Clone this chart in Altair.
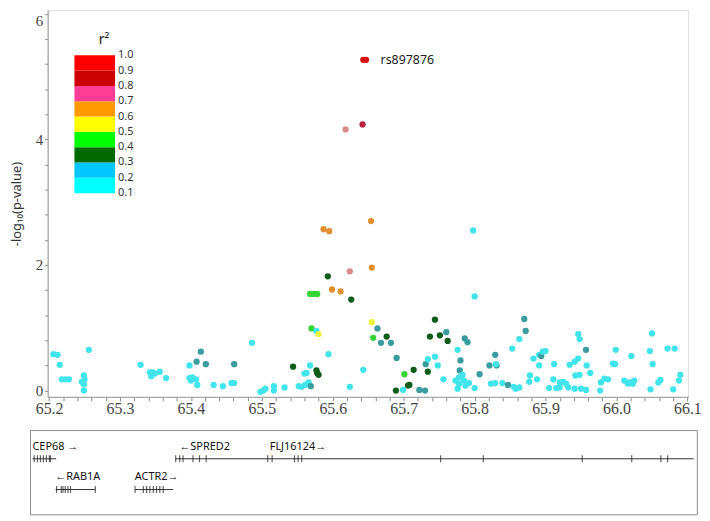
import altair as alt
import pandas as pd

# ---------------- SNP association data (position in Mb, -log10 p, r2) -------------
snp_pos = [
    65.206, 65.212, 65.215, 65.218, 65.223, 65.228, 65.256, 65.249, 65.250, 65.246,
    65.249, 65.249, 65.329, 65.342, 65.346, 65.344, 65.356, 65.349, 65.365, 65.398,
    65.398, 65.402, 65.407, 65.400, 65.409, 65.414, 65.408, 65.421, 65.461, 65.457,
    65.461, 65.432, 65.445, 65.486, 65.498, 65.502, 65.505, 65.517, 65.517, 65.532,
    65.544, 65.552, 65.556, 65.561, 65.566, 65.569, 65.560, 65.563, 65.568, 65.577,
    65.578, 65.580, 65.568, 65.573, 65.578, 65.570, 65.577, 65.580, 65.593, 65.594,
    65.599, 65.611, 65.624, 65.626, 65.624, 65.643, 65.643, 65.647, 65.642, 65.618,
    65.654, 65.587, 65.595, 65.798, 65.655, 65.800, 65.655, 65.663, 65.657, 65.668,
    65.682, 65.676, 65.690, 65.701, 65.714, 65.689, 65.706, 65.708, 65.699, 65.722,
    65.730, 65.744, 65.737, 65.751, 65.762, 65.734, 65.731, 65.734, 65.744, 65.748,
    65.760, 65.756, 65.786, 65.790, 65.776, 65.780, 65.779, 65.773, 65.778, 65.783,
    65.785, 65.778, 65.787, 65.792, 65.776, 65.807, 65.800, 65.821, 65.831, 65.829,
    65.830, 65.823, 65.829, 65.839, 65.847, 65.855, 65.858, 65.863, 65.853, 65.863,
    65.870, 65.872, 65.883, 65.891, 65.894, 65.896, 65.900, 65.891, 65.878, 65.888,
    65.877, 65.905, 65.912, 65.911, 65.920, 65.925, 65.929, 65.932, 65.920, 65.915,
    65.934, 65.941, 65.946, 65.946, 65.948, 65.957, 65.958, 65.963, 65.948, 65.942,
    65.941, 65.950, 65.957, 65.978, 65.988, 65.977, 65.983, 65.999, 65.995, 65.998,
    66.021, 66.011, 66.018, 66.025, 66.023, 66.016, 66.047, 66.050, 66.051, 66.048,
    66.059, 66.062, 66.072, 66.082, 66.080, 66.090, 66.088,
]
snp_logp = [
    0.58, 0.57, 0.41, 0.18, 0.18, 0.18, 0.65, 0.24, 0.18, 0.14,
    0.10, 0.00, 0.41, 0.29, 0.29, 0.23, 0.30, 0.27, 0.20, 0.40,
    0.20, 0.21, 0.18, 0.16, 0.09, 0.62, 0.46, 0.42, 0.42, 0.12,
    0.12, 0.09, 0.07, 0.76, -0.02, 0.00, 0.03, 0.07, 0.00, 0.05,
    0.38, 0.07, 0.06, 0.09, 0.13, 0.07, 0.27, 0.28, 0.40, 0.32,
    0.28, 0.25, 1.54, 1.54, 1.54, 0.99, 0.95, 0.90, 1.82, 0.58,
    1.61, 1.58, 1.90, 1.45, 0.06, 0.33, 5.27, 5.27, 4.24, 4.16,
    2.70, 2.57, 2.54, 2.55, 1.96, 1.50, 1.09, 0.99, 0.84, 0.76,
    0.76, 0.86, 0.52, 0.26, 0.33, 0.00, 0.08, 0.09, 0.01, 0.01,
    0.00, 1.13, 0.86, 0.88, 0.79, 0.30, 0.42, 0.50, 0.54, 0.40,
    0.93, 0.18, 0.83, 0.77, 0.65, 0.48, 0.32, 0.16, 0.21, 0.25,
    0.16, 0.11, 0.08, 0.12, 0.03, 0.26, 0.04, 0.40, 0.40, 0.57,
    0.42, 0.11, 0.12, 0.12, 0.09, 0.06, 0.03, 0.05, 0.67, 0.82,
    1.14, 0.95, 0.51, 0.57, 0.55, 0.62, 0.63, 0.40, 0.24, 0.18,
    0.14, 0.04, 0.42, 0.18, 0.13, 0.14, 0.11, 0.05, 0.05, 0.04,
    0.41, 0.46, 0.51, 0.90, 0.82, 0.65, 0.40, 0.28, 0.25, 0.24,
    0.03, 0.03, 0.01, 0.13, 0.18, 0.00, 0.19, 0.65, 0.43, 0.42,
    0.55, 0.16, 0.13, 0.16, 0.11, 0.11, 0.63, 0.91, 0.42, 0.02,
    0.13, 0.17, 0.67, 0.67, 0.02, 0.25, 0.16,
]
snp_r2 = [
    0.12, 0.12, 0.12, 0.12, 0.12, 0.12, 0.12, 0.12, 0.12, 0.12,
    0.12, 0.12, 0.12, 0.12, 0.12, 0.12, 0.12, 0.12, 0.12, 0.12,
    0.12, 0.12, 0.12, 0.12, 0.12, 0.25, 0.25, 0.25, 0.25, 0.12,
    0.12, 0.12, 0.12, 0.12, 0.12, 0.12, 0.12, 0.12, 0.12, 0.12,
    0.35, 0.12, 0.12, 0.12, 0.12, 0.25, 0.12, 0.12, 0.12, 0.35,
    0.35, 0.35, 0.45, 0.45, 0.45, 0.45, 0.12, 0.55, 0.35, 0.12,
    0.65, 0.65, 0.75, 0.35, 0.12, 0.12, 0.95, 0.95, 0.85, 0.75,
    0.65, 0.65, 0.65, 0.12, 0.65, 0.12, 0.55, 0.25, 0.45, 0.25,
    0.25, 0.35, 0.25, 0.45, 0.35, 0.35, 0.35, 0.35, 0.12, 0.25,
    0.25, 0.35, 0.35, 0.35, 0.35, 0.35, 0.25, 0.12, 0.12, 0.12,
    0.25, 0.12, 0.25, 0.25, 0.12, 0.25, 0.25, 0.12, 0.12, 0.12,
    0.12, 0.12, 0.12, 0.12, 0.12, 0.25, 0.12, 0.25, 0.25, 0.25,
    0.12, 0.12, 0.12, 0.12, 0.25, 0.12, 0.12, 0.12, 0.12, 0.12,
    0.25, 0.25, 0.12, 0.12, 0.25, 0.12, 0.12, 0.12, 0.12, 0.12,
    0.12, 0.12, 0.12, 0.12, 0.12, 0.12, 0.12, 0.12, 0.12, 0.12,
    0.12, 0.12, 0.12, 0.12, 0.12, 0.25, 0.12, 0.12, 0.12, 0.12,
    0.12, 0.12, 0.12, 0.12, 0.12, 0.12, 0.12, 0.12, 0.12, 0.12,
    0.12, 0.12, 0.12, 0.12, 0.12, 0.12, 0.12, 0.12, 0.12, 0.12,
    0.12, 0.12, 0.12, 0.12, 0.12, 0.12, 0.12,
]

lead_name = ["rs897876"]
lead_pos = [65.645]
lead_logp = [5.27]

# r2 legend: thresholds 0.1 ... 1.0, nine coloured bands between them
legend_r2 = [0.1, 0.2, 0.3, 0.4, 0.5, 0.6, 0.7, 0.8, 0.9, 1.0]
band_colors = ["#00ffff", "#00c8ff", "#006a00", "#00ff00", "#ffff00",
               "#ff9900", "#ff3c96", "#cc0000", "#ff0000"]
legend_colors = ["rgba(0,0,0,0)"] + band_colors + ["rgba(0,0,0,0)"]
point_colors = ["#40e4ea", "#3a9c9e", "#0d5c1a", "#34d434", "#f2f23c",
                "#e0902e", "#d98c8c", "#b8203e", "#d41414"]

# axes ticks
x_ticks = [round(65.2 + 0.02 * i, 2) for i in range(46)]
y_ticks = [0.0, 0.4, 0.8, 1.2, 1.6, 2.0, 2.4, 2.8, 3.2, 3.6, 4.0, 4.4, 4.8, 5.2, 5.6, 6.0]

# ---------------- gene track ------------------------------------------------------
gene_labels = ["CEP68 \u2192", "\u2190RAB1A", "ACTR2\u2192", "\u2190SPRED2", "FLJ16124\u2192"]
gene_label_pos = [65.1766, 65.2088, 65.3209, 65.3838, 65.5111]
gene_start = [65.1766, 65.2092, 65.3212, 65.3785, 65.5082]
gene_end = [65.2100, 65.2652, 65.3749, 65.5082, 66.1089]
gene_row = [0, 1, 1, 0, 0]
row_label_y = [2.35, 5.9]
row_glyph_y = [3.35, 7.0]

exon_gene = (["CEP68"] * 7 + ["RAB1A"] * 7 + ["ACTR2"] * 8 + ["SPRED2"] * 7 + ["FLJ16124"] * 10)
exon_row = [0] * 7 + [1] * 7 + [1] * 8 + [0] * 7 + [0] * 10
exon_pos = [
    65.1790, 65.1836, 65.1878, 65.1920, 65.1962, 65.2004, 65.2020,
    65.2106, 65.2172, 65.2196, 65.2228, 65.2266, 65.2302, 65.2652,
    65.3212, 65.3329, 65.3375, 65.3421, 65.3469, 65.3515, 65.3561, 65.3609,
    65.3785, 65.3841, 65.3889, 65.4028, 65.4121, 65.4215, 65.5082,
    65.5145, 65.5460, 65.5511, 65.5562, 65.7520, 65.8122, 65.9517, 66.0215, 66.0626, 66.0721,
]
track_box_start = [65.1738]
track_box_end = [66.114]
track_box_top = [0]
track_box_bottom = [10]

# ---------------- build ------------------------------------------------------------
snp = pd.DataFrame({"pos": snp_pos, "logp": snp_logp, "r2": snp_r2})
lead = pd.DataFrame({"pos": lead_pos, "logp": lead_logp, "name": lead_name})
leg = pd.DataFrame({"r2": legend_r2})
genes = pd.DataFrame({
    "label": gene_labels, "lx": gene_label_pos, "start": gene_start, "end": gene_end,
    "ly": [row_label_y[r] for r in gene_row], "gy": [row_glyph_y[r] for r in gene_row],
})
exons = pd.DataFrame({"gene": exon_gene, "pos": exon_pos,
                      "gy": [row_glyph_y[r] for r in exon_row]})
box = pd.DataFrame({"x0": track_box_start, "x1": track_box_end,
                    "y0": track_box_top, "y1": track_box_bottom})

XDOM = [65.198, 66.101]
xscale = alt.Scale(domain=XDOM, nice=False, zero=False)
yscale = alt.Scale(domain=[-0.1, 6.06], nice=False, zero=False)
gscale = alt.Scale(domain=[0, 10], range=[424, 509], nice=False, zero=False)

x_axis = alt.Axis(
    values=x_ticks, title=None, grid=False,
    labelExpr="abs(datum.value*10 - round(datum.value*10)) < 0.001 ? format(datum.value, '.1f') : ''",
    labelFont="Liberation Serif", labelFontSize=16, labelColor="#444",
    labelOverlap=False, labelPadding=0, tickSize=4, tickColor="#888",
    domainColor="#999", labelFlush=False,
)
y_axis = alt.Axis(
    values=y_ticks, grid=False, title="-log\u2081\u2080(p-value)",
    labelExpr="datum.value % 2 == 0 ? format(datum.value, 'd') : ''",
    labelFont="Liberation Serif", labelFontSize=15, labelColor="#444",
    labelOverlap=False, labelPadding=2, tickSize=3, tickColor="#888",
    domainColor="#999", labelFlush=4,
    titleFont="Noto Sans", titleFontSize=13, titleFontWeight="normal",
    titleColor="#333", titlePadding=12,
)

points = alt.Chart(snp).mark_circle(size=40, opacity=1).encode(
    x=alt.X("pos:Q", scale=xscale, axis=x_axis),
    y=alt.Y("logp:Q", scale=yscale, axis=y_axis),
    color=alt.Color("r2:Q", scale=alt.Scale(type="quantize", domain=[0.1, 1.0],
                                            range=point_colors), legend=None),
)

lead_label = alt.Chart(lead).mark_text(
    align="left", baseline="middle", dx=16, fontSize=12.5, font="Noto Sans", color="#222"
).encode(
    x=alt.X("pos:Q", scale=xscale, axis=x_axis),
    y=alt.Y("logp:Q", scale=yscale, axis=y_axis),
    text="name:N",
)

legend_layer = alt.Chart(leg).mark_circle(size=0, opacity=1).encode(
    color=alt.Color(
        "r2:Q",
        scale=alt.Scale(type="threshold", domain=legend_r2, range=legend_colors),
        legend=alt.Legend(
            type="gradient",
            title="r\u00b2", orient="none", legendX=27, legendY=23, direction="vertical",
            gradientLength=170, gradientThickness=41, gradientStrokeWidth=0,
            format=".1f", labelOverlap=False, labelFont="Noto Sans", labelFontSize=11,
            labelColor="#333", labelOffset=3, titleFont="Noto Sans", titleFontSize=14,
            titleFontWeight="normal", titleColor="#222", titleAnchor="middle",
            titlePadding=-7, padding=0,
        ),
    )
)

inner = alt.layer(points, lead_label, legend_layer).resolve_scale(color="independent")

box_layer = alt.Chart(box).mark_rect(fillOpacity=0, stroke="#8c8c8c", strokeWidth=1).encode(
    x=alt.X("x0:Q", scale=xscale, axis=x_axis), x2="x1:Q",
    y=alt.Y("y0:Q", scale=gscale, axis=None), y2="y1:Q",
)
gene_lines = alt.Chart(genes).mark_rule(color="#333", strokeWidth=1).encode(
    x=alt.X("start:Q", scale=xscale, axis=x_axis), x2="end:Q",
    y=alt.Y("gy:Q", scale=gscale, axis=None),
)
exon_ticks = alt.Chart(exons).mark_tick(orient="vertical", size=7, thickness=1.2, color="#222").encode(
    x=alt.X("pos:Q", scale=xscale, axis=x_axis),
    y=alt.Y("gy:Q", scale=gscale, axis=None),
)
gene_text = alt.Chart(genes).mark_text(
    align="left", baseline="alphabetic", fontSize=11, font="Noto Sans", color="#111"
).encode(
    x=alt.X("lx:Q", scale=xscale, axis=x_axis),
    y=alt.Y("ly:Q", scale=gscale, axis=None),
    text="label:N",
)
gene_track = alt.layer(box_layer, gene_lines, exon_ticks, gene_text)

chart = alt.layer(inner, gene_track).resolve_scale(y="independent").properties(
    width=646, height=390, padding={"left": 2, "top": 0, "right": 0, "bottom": 0}
).configure_view(stroke="#9a9a9a", strokeWidth=1).configure_axis(
    labelOverlap=False
).configure_legend(
    gradientLength=170, gradientThickness=41, labelOverlap=False
).configure(background="white")

chart.save("out.html", embed_options={"renderer": "svg", "actions": False})
